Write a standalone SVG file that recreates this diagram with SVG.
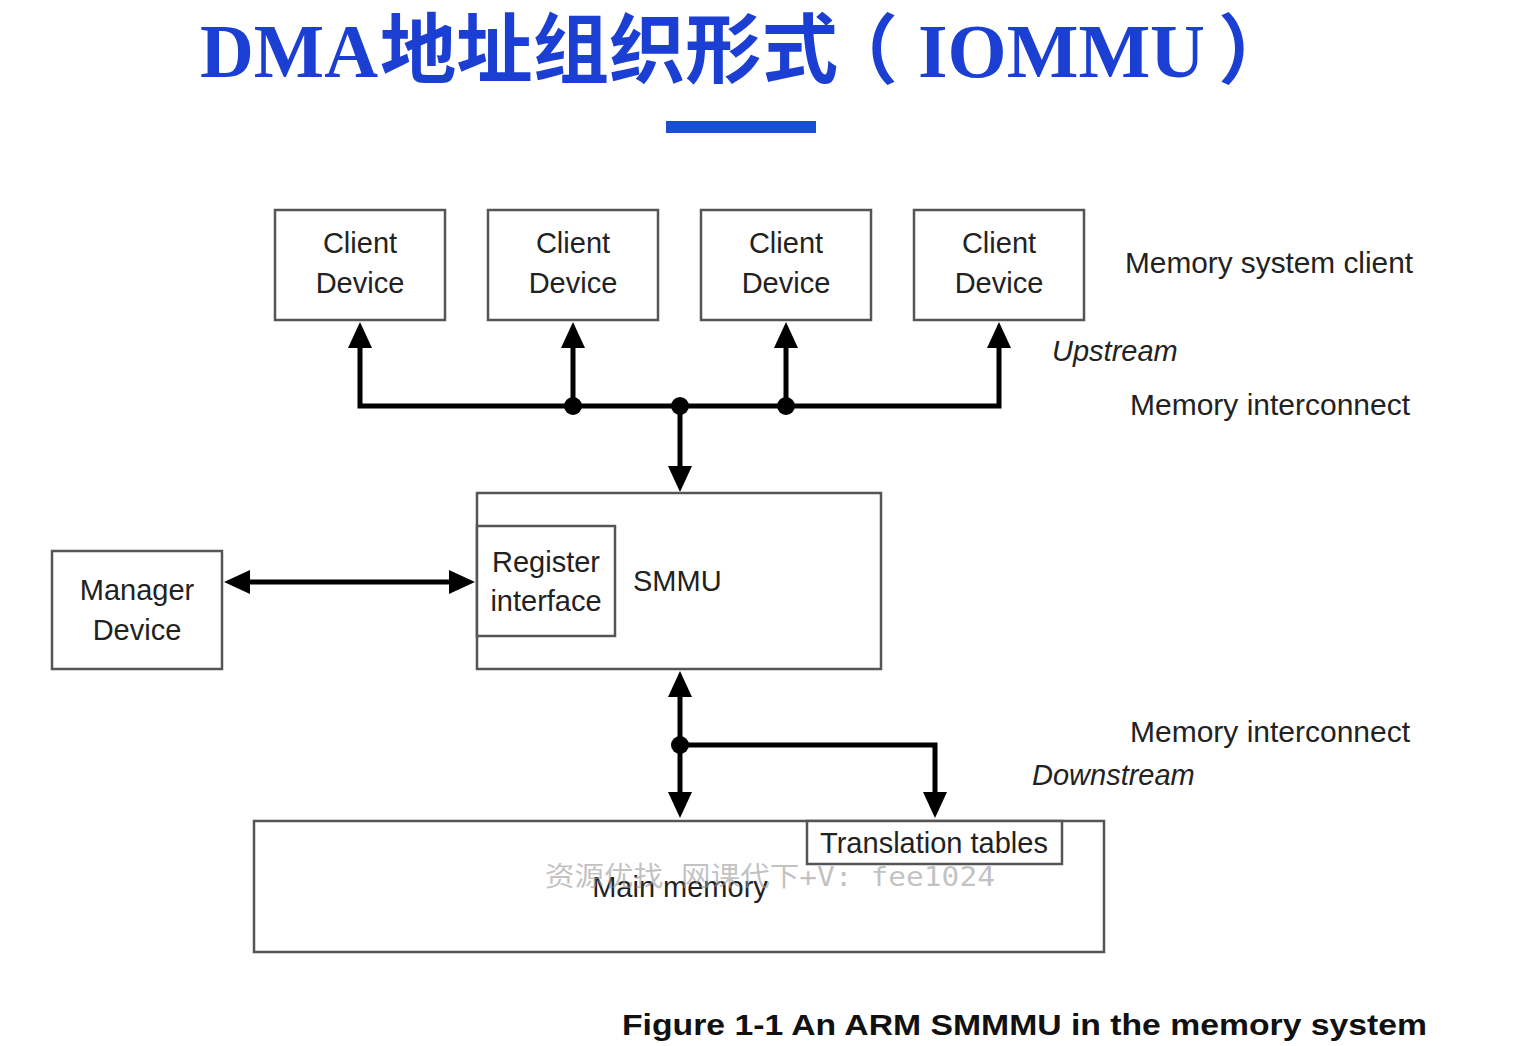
<svg xmlns="http://www.w3.org/2000/svg" width="1525" height="1046" viewBox="0 0 1525 1046">
<style>
.box{fill:#fff;stroke:#555;stroke-width:2.5}
.t{font-family:"Liberation Sans",Arial,sans-serif;font-size:29px;fill:#222;text-anchor:middle}
.lbl{font-family:"Liberation Sans",Arial,sans-serif;font-size:29px;fill:#222}
.it{font-style:italic}
.wire{fill:none;stroke:#000;stroke-width:5}
.dot{fill:#000}
</style>
<defs>
<marker id="ah" viewBox="0 0 26 24" refX="0" refY="12" markerWidth="26" markerHeight="24" markerUnits="userSpaceOnUse" orient="auto-start-reverse">
<path d="M0,0 L26,12 L0,24 z" fill="#000"/>
</marker>
</defs>
<rect width="1525" height="1046" fill="#fff"/>
<g id="title">
<text y="77" font-family="'Liberation Serif','Noto Sans CJK SC',serif" font-weight="bold" font-size="76" fill="#1a3fd2"><tspan x="200" textLength="178" lengthAdjust="spacingAndGlyphs">DMA</tspan><tspan x="380" textLength="458" lengthAdjust="spacingAndGlyphs">地址组织形式</tspan><tspan x="822">（</tspan><tspan x="918" textLength="287" lengthAdjust="spacingAndGlyphs">IOMMU</tspan><tspan x="1218">）</tspan></text>
<rect x="666" y="121" width="150" height="12" fill="#1a4fd0"/>
</g>
<g id="connectors">
<path class="wire" d="M360,348 V406 H999 V348" marker-start="url(#ah)" marker-end="url(#ah)"/>
<path class="wire" d="M573,406 V348" marker-end="url(#ah)"/>
<path class="wire" d="M786,406 V348" marker-end="url(#ah)"/>
<path class="wire" d="M680,406 V466" marker-end="url(#ah)"/>
<path class="wire" d="M250,582 H449" marker-start="url(#ah)" marker-end="url(#ah)"/>
<path class="wire" d="M680,697 V792" marker-start="url(#ah)" marker-end="url(#ah)"/>
<path class="wire" d="M680,745 H935 V792" marker-end="url(#ah)"/>
<circle class="dot" cx="573" cy="406" r="9"/>
<circle class="dot" cx="680" cy="406" r="9"/>
<circle class="dot" cx="786" cy="406" r="9"/>
<circle class="dot" cx="680" cy="745" r="9"/>
</g>
<g id="client1"><rect class="box" x="275" y="210" width="170" height="110"/><text class="t" x="360" y="253">Client</text><text class="t" x="360" y="293">Device</text></g>
<g id="client2"><rect class="box" x="488" y="210" width="170" height="110"/><text class="t" x="573" y="253">Client</text><text class="t" x="573" y="293">Device</text></g>
<g id="client3"><rect class="box" x="701" y="210" width="170" height="110"/><text class="t" x="786" y="253">Client</text><text class="t" x="786" y="293">Device</text></g>
<g id="client4"><rect class="box" x="914" y="210" width="170" height="110"/><text class="t" x="999" y="253">Client</text><text class="t" x="999" y="293">Device</text></g>
<g id="smmu">
<rect class="box" x="477" y="493" width="404" height="176"/>
<text class="lbl" x="633" y="591">SMMU</text>
</g>
<g id="register">
<rect class="box" x="477" y="526" width="138" height="110"/>
<text class="t" x="546" y="572">Register</text>
<text class="t" x="546" y="611">interface</text>
</g>
<g id="manager">
<rect class="box" x="52" y="551" width="170" height="118"/>
<text class="t" x="137" y="600">Manager</text>
<text class="t" x="137" y="640">Device</text>
</g>
<g id="mainmemory">
<rect class="box" x="254" y="821" width="850" height="131"/>
<text class="t" x="680" y="897">Main memory</text>
</g>
<g id="translation">
<rect class="box" x="807" y="821" width="255" height="43"/>
<text class="t" x="934" y="853">Translation tables</text>
</g>
<g id="labels">
<text class="lbl" x="1125" y="273" textLength="288" lengthAdjust="spacingAndGlyphs">Memory system client</text>
<text class="lbl it" x="1052" y="361">Upstream</text>
<text class="lbl" x="1130" y="415" textLength="280" lengthAdjust="spacingAndGlyphs">Memory interconnect</text>
<text class="lbl" x="1130" y="742" textLength="280" lengthAdjust="spacingAndGlyphs">Memory interconnect</text>
<text class="lbl it" x="1032" y="785">Downstream</text>
<text x="622" y="1035" font-family="'Liberation Sans',Arial,sans-serif" font-weight="bold" font-size="30" fill="#111" textLength="805" lengthAdjust="spacingAndGlyphs">Figure 1-1 An ARM SMMMU in the memory system</text>
<text x="545" y="886" font-family="'DejaVu Sans Mono','Noto Sans CJK SC',monospace" font-size="27" fill="#999" fill-opacity="0.6" textLength="450" lengthAdjust="spacingAndGlyphs">资源优找 网课代下+V: fee1024</text>
</g>
</svg>
